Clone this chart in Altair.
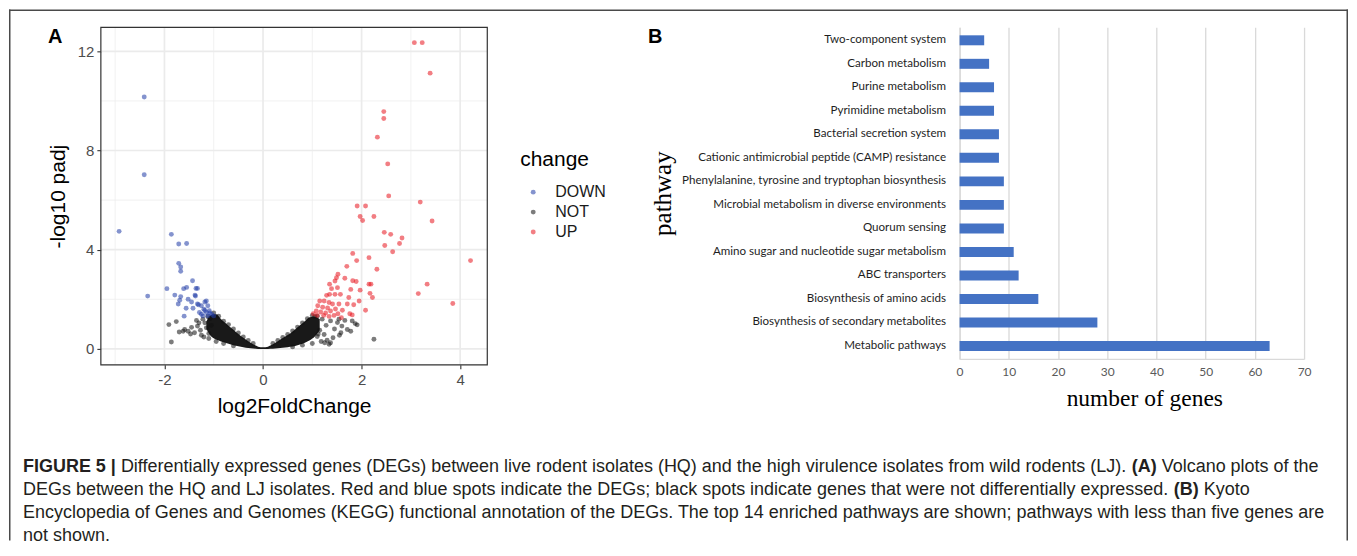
import altair as alt
import pandas as pd

# ---------------- data ----------------
down_x = [-2.41, -2.41, -2.92, -2.34, -1.86, -1.71, -1.55, -1.71, -1.67, -1.67, -1.95, -1.79,
          -1.67, -1.61, -1.55, -1.43, -1.36, -1.33, -1.38, -1.37, -1.69, -1.52, -1.45, -1.72,
          -1.56, -1.60, -1.42, -1.33, -1.31, -1.25, -1.18, -1.15, -1.12, -1.20, -1.29, -1.15,
          -1.09, -1.04, -1.00, -1.22, -1.25, -1.12, -1.08, -1.18]
down_y = [10.16, 7.02, 4.74, 2.13, 4.62, 4.23, 4.25, 3.45, 3.30, 3.13, 2.43, 2.17,
          2.11, 2.43, 2.48, 2.75, 2.44, 2.44, 2.17, 2.13, 1.96, 2.00, 1.89, 1.81,
          1.64, 1.32, 1.64, 1.81, 1.78, 1.74, 1.89, 1.93, 1.74, 1.60, 1.47, 1.47,
          1.54, 1.40, 1.33, 1.33, 1.40, 1.33, 1.45, 1.55]

up_x = [3.07, 3.23, 3.39, 2.45, 2.45, 2.32, 2.53, 2.55, 3.19, 1.91, 2.08, 1.97, 2.02, 2.25,
        3.43, 2.46, 2.59, 2.82, 2.77, 2.47, 2.63, 4.21, 1.82, 1.90, 2.15, 2.31, 1.70, 1.52,
        1.49, 1.46, 1.66, 1.82, 1.89, 2.15, 2.19, 3.33, 3.15, 3.85, 1.35, 1.39, 1.51, 1.35,
        1.46, 1.57, 1.29, 1.78, 1.97, 1.74, 1.95, 2.17, 2.22, 1.71, 1.84, 2.08, 1.15, 1.24,
        1.34, 1.41, 1.54, 1.11, 1.21, 1.31, 1.47, 1.61, 1.08, 1.17, 1.27, 1.37, 1.52, 1.76,
        1.02, 1.10, 1.23, 1.34, 1.44, 1.59, 1.81]
up_y = [12.35, 12.35, 11.12, 9.57, 9.29, 8.54, 7.46, 6.17, 5.92, 5.76, 5.76, 5.34, 5.18, 5.34,
        5.16, 4.70, 4.62, 4.47, 4.25, 4.17, 3.92, 3.56, 3.85, 3.56, 3.68, 3.21, 3.33, 3.01,
        2.87, 2.74, 2.85, 2.75, 2.72, 2.61, 2.61, 2.61, 2.23, 1.83, 2.61, 2.43, 2.47, 2.20,
        2.20, 2.20, 2.16, 2.40, 2.37, 2.07, 1.93, 2.24, 2.07, 1.81, 1.78, 1.56, 1.93, 1.93,
        1.87, 1.81, 1.81, 1.74, 1.68, 1.65, 1.61, 1.56, 1.53, 1.49, 1.45, 1.53, 1.42, 1.42,
        1.42, 1.35, 1.35, 1.31, 1.35, 1.26, 1.37]

not_x = [-1.91, -1.76, -1.86, -1.70, -1.59, -1.52, -1.45, -1.62, -1.39, -1.47, -1.33, -1.30,
         -1.27, -1.22, -1.18, -1.15, -1.12, -1.08, -1.05, -1.25, -1.20, -1.10, -1.35,
         2.25, 1.87, 1.91, 1.78, 1.71, 1.58, 1.34, 1.24, 1.51, 1.37, 1.45, 1.60, 1.66, 1.28,
         1.20, 1.15, 1.10, 1.42, 1.30, 1.55, 1.05, 1.18, 1.25, 1.81, 1.54, 1.37,
         -1.00, -0.90, -0.80, -0.70, -0.60, -0.50, -0.40, -0.30, -0.20, 0.20, 0.30, 0.40,
         0.50, 0.60, 0.70, 0.80, 0.90, 1.00, 1.10, -0.95, -0.80, -0.60, 0.60, 0.80, 1.00,
         -1.10, 1.12]
not_y = [0.98, 1.10, 0.28, 0.68, 0.78, 0.71, 0.87, 0.71, 0.65, 0.60, 0.92, 1.05,
         0.75, 1.20, 1.05, 0.85, 1.30, 1.22, 0.95, 0.55, 0.48, 0.42, 1.15,
         0.39, 1.02, 0.97, 0.71, 0.78, 0.65, 0.19, 0.58, 1.06, 1.13, 0.80, 0.92, 1.15, 0.95,
         1.20, 0.75, 0.50, 0.45, 0.35, 0.55, 1.30, 0.30, 0.25, 1.13, 1.20, 0.25,
         1.45, 1.32, 1.12, 0.98, 0.80, 0.64, 0.48, 0.34, 0.22, 0.22, 0.34, 0.46,
         0.58, 0.72, 0.88, 1.05, 1.22, 1.35, 1.32, 0.30, 0.22, 0.12, 0.08, 0.15, 0.22,
         0.62, 0.60]

# dense core of non-significant genes (outline)
core_x = [-1.15, -1.05, -0.95, -0.85, -0.75, -0.65, -0.55, -0.45, -0.35, -0.25, -0.15, -0.05,
          0.05, 0.15, 0.25, 0.35, 0.45, 0.55, 0.65, 0.75, 0.85, 0.95, 1.05, 1.15]
core_lo = [0.80, 0.50, 0.38, 0.30, 0.24, 0.18, 0.13, 0.09, 0.05, 0.03, 0.01, 0.00,
           0.00, 0.01, 0.02, 0.04, 0.06, 0.09, 0.12, 0.18, 0.25, 0.35, 0.50, 0.75]
core_hi = [1.10, 1.38, 1.40, 1.20, 1.02, 0.85, 0.68, 0.52, 0.38, 0.25, 0.14, 0.07,
           0.07, 0.14, 0.25, 0.38, 0.50, 0.62, 0.78, 0.95, 1.12, 1.28, 1.30, 1.20]

change_levels = ["DOWN", "NOT", "UP"]
x_major = [-2, 0, 2, 4]
x_minor = [-3, -1, 1, 3]
y_major = [0, 4, 8, 12]
y_minor = [2, 6, 10]

pathways = ["Two-component system", "Carbon metabolism", "Purine metabolism",
            "Pyrimidine metabolism", "Bacterial secretion system",
            "Cationic antimicrobial peptide (CAMP) resistance",
            "Phenylalanine, tyrosine and tryptophan biosynthesis",
            "Microbial metabolism in diverse environments", "Quorum sensing",
            "Amino sugar and nucleotide sugar metabolism", "ABC transporters",
            "Biosynthesis of amino acids", "Biosynthesis of secondary metabolites",
            "Metabolic pathways"]
genes = [5, 6, 7, 7, 8, 8, 9, 9, 9, 11, 12, 16, 28, 63]
gene_ticks = [0, 10, 20, 30, 40, 50, 60, 70]

caption_lines = [
    [("FIGURE 5 |", True),
     ("Differentially expressed genes (DEGs) between live rodent isolates (HQ) and the high virulence isolates from wild rodents (LJ).", False),
     ("(A)", True), ("Volcano plots of the", False)],
    [("DEGs between the HQ and LJ isolates. Red and blue spots indicate the DEGs; black spots indicate genes that were not differentially expressed.", False),
     ("(B)", True), ("Kyoto", False)],
    [("Encyclopedia of Genes and Genomes (KEGG) functional annotation of the DEGs. The top 14 enriched pathways are shown; pathways with less than five genes are", False)],
    [("not shown.", False)],
]

# ---------------- helpers ----------------
REG = {" ": 278, "(": 333, ")": 333, ",": 278, "-": 333, ".": 278, ";": 278, "|": 260}
for c in "0123456789":
    REG[c] = 556
REG.update(dict(zip("ABCDEFGHIJKLMNOPQRSTUVWXYZ",
                    [667, 667, 722, 722, 667, 611, 778, 722, 278, 500, 667, 556, 833, 722, 778,
                     667, 778, 722, 667, 611, 722, 667, 944, 667, 667, 611])))
REG.update(dict(zip("abcdefghijklmnopqrstuvwxyz",
                    [556, 556, 500, 556, 556, 278, 556, 556, 222, 222, 500, 222, 833, 556, 556,
                     556, 556, 333, 500, 278, 556, 500, 722, 500, 500, 500])))
BOLD = {" ": 278, "(": 333, ")": 333, "|": 280, "5": 556, "A": 722, "B": 722, "E": 667,
        "F": 611, "G": 778, "I": 278, "R": 722, "U": 722}


def text_width(s, bold, size):
    table = BOLD if bold else REG
    return sum(table.get(ch, 556) for ch in s) * size / 1000.0


one = pd.DataFrame({"k": [0]})
CAP_FONT = "Liberation Sans"
CAP_SIZE = 18

# ---------------- panel A : volcano plot ----------------
W_A, H_A = 387, 338
XS = alt.Scale(domain=[-3.29, 4.55], nice=False, zero=False)
YS = alt.Scale(domain=[-0.644, 12.966], nice=False, zero=False)

x_axis = alt.Axis(values=x_major, grid=False, domain=False, tickSize=4, tickColor="#333333",
                  tickWidth=1.1, labelFont="Liberation Sans", labelFontSize=15,
                  labelColor="#4d4d4d", labelPadding=4, labelExpr="'' + datum.value",
                  labelFlush=False, title="log2FoldChange",
                  titleFont="Liberation Sans", titleFontSize=21, titleFontWeight="normal",
                  titleColor="black", titleX=193.5, titleY=42, titleAlign="center",
                  titleBaseline="middle")
y_axis = alt.Axis(values=y_major, grid=False, domain=False, tickSize=4, tickColor="#333333",
                  tickWidth=1.1, labelFont="Liberation Sans", labelFontSize=15,
                  labelColor="#4d4d4d", labelPadding=3, labelFlush=False, title="-log10 padj",
                  titleFont="Liberation Sans", titleFontSize=21, titleFontWeight="normal",
                  titleColor="black", titleX=-42, titleY=169, titleAngle=270,
                  titleAlign="center", titleBaseline="middle")


def X(field):
    return alt.X(field, scale=XS, axis=x_axis)


def Y(field):
    return alt.Y(field, scale=YS, axis=y_axis)


gx_minor = alt.Chart(pd.DataFrame({"v": x_minor})).mark_rule(color="#ededed", strokeWidth=0.8).encode(
    x=X("v:Q"))
gy_minor = alt.Chart(pd.DataFrame({"v": y_minor})).mark_rule(color="#ededed", strokeWidth=0.8).encode(
    y=Y("v:Q"))
gx_major = alt.Chart(pd.DataFrame({"v": x_major})).mark_rule(color="#ebebeb", strokeWidth=1.7).encode(
    x=X("v:Q"))
gy_major = alt.Chart(pd.DataFrame({"v": y_major})).mark_rule(color="#ebebeb", strokeWidth=1.7).encode(
    y=Y("v:Q"))

core = alt.Chart(pd.DataFrame({"x": core_x, "lo": core_lo, "hi": core_hi})).mark_area(
    color="#080808", opacity=0.93, interpolate="monotone").encode(
    x=X("x:Q"), y=Y("lo:Q"), y2="hi:Q")

pts = pd.DataFrame({
    "lfc": not_x + down_x + up_x,
    "padj": not_y + down_y + up_y,
    "change": ["NOT"] * len(not_x) + ["DOWN"] * len(down_x) + ["UP"] * len(up_x),
})
points = alt.Chart(pts).mark_circle(size=24, opacity=0.55).encode(
    x=X("lfc:Q"),
    y=Y("padj:Q"),
    color=alt.Color("change:N",
                    scale=alt.Scale(domain=change_levels, range=["#1f3aa6", "#111111", "#e8141e"]),
                    legend=alt.Legend(title="change", orient="none", legendX=420, legendY=122,
                                      titleFont="Liberation Sans", titleFontSize=21,
                                      titleFontWeight="normal", titleColor="black",
                                      titlePadding=14, labelFont="Liberation Sans",
                                      labelFontSize=16, labelColor="#1a1a1a", symbolSize=24,
                                      symbolOpacity=0.55, symbolType="circle",
                                      symbolStrokeWidth=0, symbolOffset=5, labelOffset=14,
                                      rowPadding=4)),
)

border = alt.Chart(one).mark_rect(fillOpacity=0, stroke="#333333", strokeWidth=1.2).encode(
    x=alt.value(0), x2=alt.value(W_A), y=alt.value(0), y2=alt.value(H_A))

label_a = alt.Chart(one).mark_text(text="A", font="Liberation Sans", fontSize=20, fontWeight="bold",
                                   align="left", baseline="middle", color="black").encode(
    x=alt.value(-53), y=alt.value(9.5))

# outer frame of the figure (left, top, right); kept inside the 1341px page width
frame_color = "#4a4a4a"
FR = 1248.25
frame_l = alt.Chart(one).mark_rule(color=frame_color, strokeWidth=1.5).encode(
    x=alt.value(-91.25), y=alt.value(-18), y2=alt.value(514))
frame_t = alt.Chart(one).mark_rule(color=frame_color, strokeWidth=1.5).encode(
    x=alt.value(-92), x2=alt.value(FR + 0.75), y=alt.value(-17.25))
frame_r = alt.Chart(one).mark_rule(color=frame_color, strokeWidth=1.5).encode(
    x=alt.value(FR), y=alt.value(-18), y2=alt.value(514))

# caption (segments placed one after another)
caption_layers = []
line_y0, line_step, cap_x0 = 440, 23, -78
for i, segs in enumerate(caption_lines):
    xpos = cap_x0
    for j, (seg, bold) in enumerate(segs):
        if j > 0:
            xpos += text_width(" ", False, CAP_SIZE)
        caption_layers.append(
            alt.Chart(one).mark_text(text=seg, font=CAP_FONT, fontSize=CAP_SIZE,
                                     fontWeight="bold" if bold else "normal", align="left",
                                     baseline="middle", color="#231f20").encode(
                x=alt.value(xpos), y=alt.value(line_y0 + i * line_step)))
        xpos += text_width(seg, bold, CAP_SIZE)

panel_a = alt.layer(gx_minor, gy_minor, gx_major, gy_major, core, points, border, label_a,
                    frame_l, frame_t, frame_r, *caption_layers).properties(width=W_A, height=H_A)

# ---------------- panel B : KEGG bar chart ----------------
W_B, H_B = 345, 332
bar_df = pd.DataFrame({"pathway": pathways, "genes": genes})
bars = alt.Chart(bar_df).mark_bar(color="#4472C4", size=10).encode(
    x=alt.X("genes:Q", scale=alt.Scale(domain=[0, 70], nice=False),
            axis=alt.Axis(values=gene_ticks, grid=True, gridColor="#d9d9d9", gridWidth=1.3,
                          domainColor="#d9d9d9", domainWidth=1.3, ticks=False, labelPadding=8,
                          labelFlush=False, labelFont="Lato", labelFontSize=12,
                          labelColor="#595959",
                          title="number of genes", titleFont="Liberation Serif",
                          titleFontSize=23.5, titleFontWeight="normal", titleColor="black",
                          titleX=185, titleY=40, titleAlign="center", titleBaseline="middle")),
    y=alt.Y("pathway:N", sort=pathways,
            scale=alt.Scale(paddingInner=0.5, paddingOuter=0.3),
            axis=alt.Axis(ticks=False, domainColor="#d9d9d9", domainWidth=1.3, labelPadding=14,
                          labelLimit=500, labelFont="Lato", labelFontSize=11.6,
                          labelColor="#1e1e1e", title="pathway", titleFont="Liberation Serif",
                          titleFontSize=25, titleFontWeight="normal", titleColor="black",
                          titleX=-298, titleY=166, titleAngle=270, titleAlign="center",
                          titleBaseline="middle")),
)
label_b = alt.Chart(one).mark_text(text="B", font="Liberation Sans", fontSize=20, fontWeight="bold",
                                   align="left", baseline="middle", color="black").encode(
    x=alt.value(-312), y=alt.value(9.5))

panel_b = alt.layer(bars, label_b).properties(width=W_B, height=H_B)

chart = alt.hconcat(panel_a, panel_b, spacing=473, bounds="flush").properties(
    padding=0, background="white"
).configure_view(strokeWidth=0)

chart.save("out.html", embed_options={"renderer": "svg", "actions": False})
